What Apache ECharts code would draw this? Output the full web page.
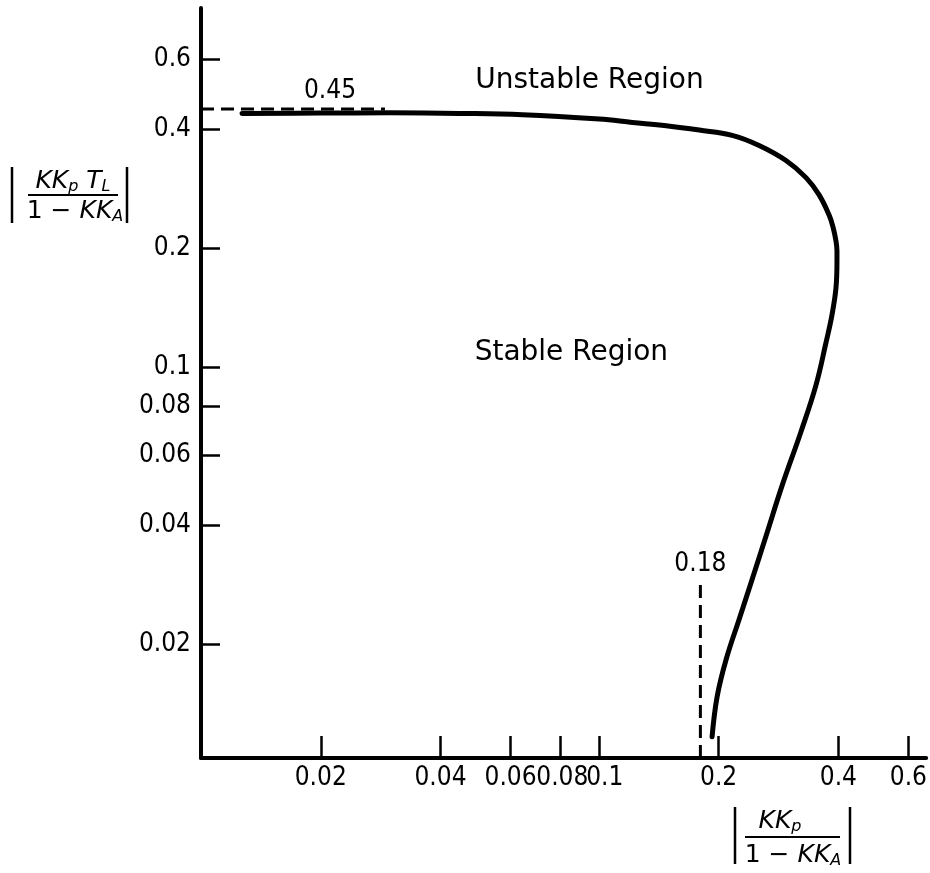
<!DOCTYPE html>
<html>
<head>
<meta charset="utf-8">
<script src="https://cdn.jsdelivr.net/npm/echarts@6/dist/echarts.min.js"></script>
<style>
html, body { margin: 0; padding: 0; background: #ffffff; }
#chart { width: 930px; height: 873px; }
</style>
</head>
<body>
<div id="chart"></div>
<script>
// ---- data ----
const curveX = [0.01268, 0.01989, 0.0298, 0.04467, 0.06427, 0.1003, 0.1214, 0.1477, 0.1788, 0.2163, 0.2528, 0.2954, 0.3317, 0.3575, 0.3789, 0.3877, 0.3945, 0.3968, 0.3968, 0.3945, 0.3854, 0.372, 0.3513, 0.3222, 0.2887, 0.2632, 0.2428, 0.2253, 0.2089, 0.1983, 0.1926];
const curveY = [0.4386, 0.4395, 0.44, 0.4386, 0.4353, 0.4243, 0.4162, 0.4083, 0.398, 0.3859, 0.3639, 0.3334, 0.3018, 0.2733, 0.2431, 0.2266, 0.2089, 0.197, 0.1858, 0.1587, 0.1355, 0.115, 0.0901, 0.0688, 0.0502, 0.0375, 0.0291, 0.0231, 0.01827, 0.01471, 0.01165];

const xTickValues = [0.02, 0.04, 0.06, 0.08, 0.1, 0.2, 0.4, 0.6];
const xTickLabels = ['0.02', '0.04', '0.06', '0.08', '0.1', '0.2', '0.4', '0.6'];
const yTickValues = [0.02, 0.04, 0.06, 0.08, 0.1, 0.2, 0.4, 0.6];
const yTickLabels = ['0.02', '0.04', '0.06', '0.08', '0.1', '0.2', '0.4', '0.6'];

const xRange = [0.01, 0.665];
const yRange = [0.0103, 0.81];

// dashed limit lines
const hLimitX = [0.01, 0.029];
const hLimitY = [0.45, 0.45];
const hLimitLabel = '0.45';
const hLimitLabelX = 0.0211;
const vLimitX = [0.18, 0.18];
const vLimitY = [0.0103, 0.029];
const vLimitLabel = '0.18';

// region annotations
const regionNames = ['Unstable Region', 'Stable Region'];
const regionX = [0.0947, 0.0853];
const regionY = [0.532, 0.1092];

// ---- chart ----
const tickFont = "'DejaVu Sans Condensed', 'Roboto', 'DejaVu Sans', sans-serif";
const textFont = "'DejaVu Sans', sans-serif";

function nearestIndex(values, v) {
  let best = 0, bd = Infinity;
  values.forEach(function (t, i) {
    const d = Math.abs(Math.log(v / t));
    if (d < bd) { bd = d; best = i; }
  });
  return best;
}

function xFormatter(v) {
  const s = xTickLabels[nearestIndex(xTickValues, v)];
  if (s === '0.08') return '{a|' + s + '}';
  if (s === '0.1') return '{b|' + s + '}';
  return s;
}
function yFormatter(v) {
  return yTickLabels[nearestIndex(yTickValues, v)];
}

const curveData = curveX.map(function (x, i) { return [x, curveY[i]]; });
const hLineData = hLimitX.map(function (x, i) { return [x, hLimitY[i]]; });
const vLineData = vLimitX.map(function (x, i) { return [x, vLimitY[i]]; });

const chart = echarts.init(document.getElementById('chart'), null, { renderer: 'canvas' });

const italicRich = {
  i: { fontFamily: textFont, fontStyle: 'italic', fontSize: 25, lineHeight: 28, color: '#000' },
  n: { fontFamily: textFont, fontSize: 25, lineHeight: 28, color: '#000' },
  s: { fontFamily: textFont, fontStyle: 'italic', fontSize: 16, lineHeight: 15, verticalAlign: 'bottom', color: '#000' }
};

const tickFontSize = 26;

const option = {
  animation: false,
  backgroundColor: '#ffffff',
  grid: { left: 201, right: 3, top: 8, bottom: 115, containLabel: false },
  xAxis: {
    type: 'log',
    logBase: 10,
    min: xRange[0],
    max: xRange[1],
    axisLine: { show: true, onZero: false, lineStyle: { color: '#000', width: 4 } },
    axisTick: { show: true, inside: true, length: 22, customValues: xTickValues, lineStyle: { color: '#000', width: 2.5 } },
    axisLabel: {
      show: true, customValues: xTickValues, formatter: xFormatter,
      color: '#000', fontSize: tickFontSize, fontFamily: tickFont, margin: 7,
      rich: {
        a: { color: '#000', fontSize: tickFontSize, fontFamily: tickFont, padding: [0, 0, 0, 4] },
        b: { color: '#000', fontSize: tickFontSize, fontFamily: tickFont, padding: [0, 0, 0, 12] }
      }
    },
    splitLine: { show: false },
    minorTick: { show: false }
  },
  yAxis: {
    type: 'log',
    logBase: 10,
    min: yRange[0],
    max: yRange[1],
    axisLine: { show: true, onZero: false, lineStyle: { color: '#000', width: 4 } },
    axisTick: { show: true, inside: true, length: 19, customValues: yTickValues, lineStyle: { color: '#000', width: 2.5 } },
    axisLabel: {
      show: true, customValues: yTickValues, formatter: yFormatter,
      color: '#000', fontSize: tickFontSize, fontFamily: tickFont, margin: 10
    },
    splitLine: { show: false },
    minorTick: { show: false }
  },
  series: [
    {
      name: 'limit-h', type: 'line', data: hLineData, symbol: 'none', silent: true,
      lineStyle: { color: '#000', width: 3, type: [13, 7] }
    },
    {
      name: 'limit-v', type: 'line', data: vLineData, symbol: 'none', silent: true,
      lineStyle: { color: '#000', width: 3, type: [13, 7] }
    },
    {
      name: 'boundary', type: 'line', data: curveData, symbol: 'none', smooth: 0.4, silent: true,
      lineStyle: { color: '#000', width: 5, join: 'round', cap: 'round' }
    },
    {
      name: 'limit-labels', type: 'scatter', symbolSize: 0, silent: true,
      itemStyle: { opacity: 1 },
      data: [
        { value: [hLimitLabelX, hLimitY[0]], label: { formatter: hLimitLabel, position: 'top', distance: 5 } },
        { value: [vLimitX[0], vLimitY[1]], label: { formatter: vLimitLabel, position: 'top', distance: 3 } }
      ],
      label: { show: true, color: '#000', fontSize: tickFontSize, fontFamily: tickFont }
    },
    {
      name: 'regions', type: 'scatter', symbolSize: 0, silent: true,
      itemStyle: { opacity: 1 },
      data: regionNames.map(function (n, i) { return { value: [regionX[i], regionY[i]], name: n }; }),
      label: { show: true, position: 'inside', formatter: '{b}', color: '#000', fontSize: 28, fontFamily: textFont }
    }
  ],
  graphic: [
    // y-axis title |KKp TL / 1 - KKA|
    { type: 'text', x: 73, y: 181, style: { text: '{i|KK}{s|p}{i| T}{s|L}', rich: italicRich, align: 'center', verticalAlign: 'middle' } },
    { type: 'line', shape: { x1: 28, y1: 195, x2: 118, y2: 195 }, style: { stroke: '#000', lineWidth: 2 } },
    { type: 'text', x: 75, y: 211, style: { text: '{n|1 − }{i|KK}{s|A}', rich: italicRich, align: 'center', verticalAlign: 'middle' } },
    { type: 'line', shape: { x1: 12, y1: 167, x2: 12, y2: 223 }, style: { stroke: '#000', lineWidth: 2.5 } },
    { type: 'line', shape: { x1: 127, y1: 167, x2: 127, y2: 223 }, style: { stroke: '#000', lineWidth: 2.5 } },
    // x-axis title |KKp / 1 - KKA|
    { type: 'text', x: 780, y: 821, style: { text: '{i|KK}{s|p}', rich: italicRich, align: 'center', verticalAlign: 'middle' } },
    { type: 'line', shape: { x1: 745, y1: 837, x2: 840, y2: 837 }, style: { stroke: '#000', lineWidth: 2 } },
    { type: 'text', x: 793, y: 855, style: { text: '{n|1 − }{i|KK}{s|A}', rich: italicRich, align: 'center', verticalAlign: 'middle' } },
    { type: 'line', shape: { x1: 735, y1: 807, x2: 735, y2: 864 }, style: { stroke: '#000', lineWidth: 2.5 } },
    { type: 'line', shape: { x1: 850, y1: 807, x2: 850, y2: 864 }, style: { stroke: '#000', lineWidth: 2.5 } }
  ]
};

chart.setOption(option);
</script>
</body>
</html>
